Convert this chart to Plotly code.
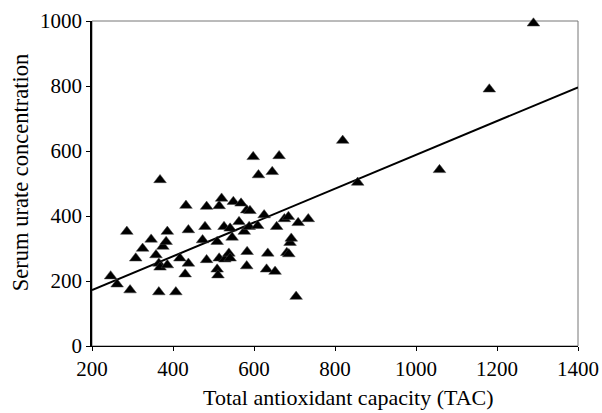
import plotly.graph_objects as go

tac = [246, 262, 294, 286, 308, 325, 346, 368, 365, 407, 358, 365, 368, 386, 375, 383,
       386, 417, 430, 432, 438, 438, 473, 479, 483, 483, 509, 509, 511, 514, 514, 520,
       526, 528, 538, 541, 541, 546, 549, 563, 568, 576, 582, 583, 582, 588, 590, 598,
       611, 609, 625, 634, 631, 645, 652, 656, 662, 675, 685, 681, 686, 689, 692, 704,
       709, 734, 819, 856, 1058, 1181, 1290]
urate = [215, 190, 172, 352, 270, 300, 328, 511, 166, 166, 280, 254, 242, 249, 306, 321,
         352, 270, 221, 432, 357, 254, 326, 367, 429, 265, 321, 236, 218, 270, 431, 454,
         367, 267, 285, 362, 270, 334, 444, 382, 439, 352, 418, 290, 246, 367, 416, 582,
         526, 370, 403, 285, 236, 536, 229, 367, 585, 391, 398, 287, 283, 318, 331, 152,
         379, 391, 632, 503, 542, 790, 993]

fit_x = [200, 1400]
fit_y = [172, 796]

x_ticks = [200, 400, 600, 800, 1000, 1200, 1400]
y_ticks = [0, 200, 400, 600, 800, 1000]

x_title = "Total antioxidant capacity (TAC)"
y_title = "Serum urate concentration"

font = "Liberation Serif, Times New Roman, serif"

fig = go.Figure()
fig.add_trace(go.Scatter(x=fit_x, y=fit_y, mode="lines",
                         line=dict(color="black", width=2), showlegend=False))
fig.add_trace(go.Scatter(x=tac, y=urate, mode="markers",
                         marker=dict(symbol="triangle-up", size=11, color="black",
                                     line=dict(width=0.5, color="#444")),
                         showlegend=False, cliponaxis=False))

fig.add_shape(type="rect", xref="paper", yref="paper", x0=0, y0=0, x1=1, y1=1,
              line=dict(color="#777", width=1), layer="below")

fig.add_annotation(text=x_title, xref="paper", yref="paper", x=0.527, y=-0.157,
                   xanchor="center", yanchor="middle", showarrow=False,
                   font=dict(size=22, family=font, color="black"))
fig.add_annotation(text=y_title, xref="paper", yref="paper", x=-0.148, y=0.532,
                   xanchor="center", yanchor="middle", showarrow=False, textangle=-90,
                   font=dict(size=22.5, family=font, color="black"))

fig.update_layout(
    width=602, height=413,
    margin=dict(l=92, r=24, t=21, b=67, autoexpand=False),
    paper_bgcolor="white", plot_bgcolor="white",
    font=dict(family=font, size=21, color="black"),
    xaxis=dict(range=[200, 1400], tickvals=x_ticks, ticks="outside", ticklen=4,
               tickcolor="black", showline=True, linecolor="black", linewidth=1,
               showgrid=False, zeroline=False, automargin=False,
               tickfont=dict(size=21)),
    yaxis=dict(range=[0, 1000], tickvals=y_ticks, ticks="outside", ticklen=4,
               tickcolor="black", showline=True, linecolor="black", linewidth=1.5,
               showgrid=False, zeroline=False, automargin=False,
               tickfont=dict(size=21)),
)

fig.write_html("out.html", config={"displayModeBar": False},
               post_script="document.body.style.margin='0px';")
